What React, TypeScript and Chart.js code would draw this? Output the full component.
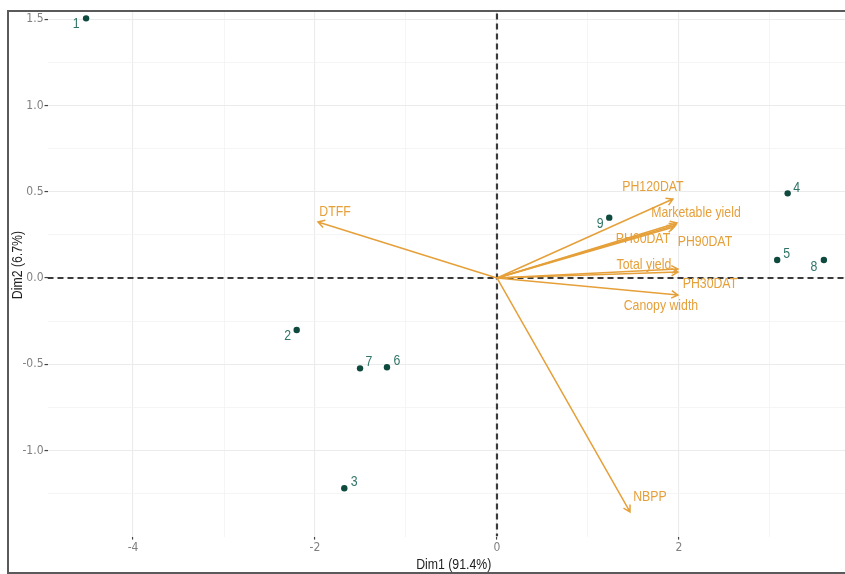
import React, { useEffect, useRef } from 'react';
import { Chart, registerables } from 'chart.js';

Chart.register(...registerables);

// ---------- data ----------
const individuals = ['1', '2', '3', '4', '5', '6', '7', '8', '9'];
const dim1Ind = [-4.516, -2.201, -1.678, 3.195, 3.08, -1.209, -1.505, 3.593, 1.234];
const dim2Ind = [1.506, -0.302, -1.22, 0.491, 0.104, -0.518, -0.524, 0.104, 0.35];

const variables = ['DTFF', 'PH120DAT', 'Marketable yield', 'PH60DAT', 'PH90DAT', 'Total yield', 'PH30DAT', 'Canopy width', 'NBPP'];
const dim1Var = [-1.967, 1.934, 1.978, 1.945, 1.967, 1.989, 1.989, 1.989, 1.462];
const dim2Var = [0.325, 0.458, 0.319, 0.296, 0.307, 0.035, 0.052, -0.099, -1.357];

const xTicks = [-4, -3, -2, -1, 0, 1, 2, 3];
const yTicks = [-1.25, -1, -0.75, -0.5, -0.25, 0, 0.25, 0.5, 0.75, 1, 1.25, 1.5];
const xTitle = 'Dim1 (91.4%)';
const yTitle = 'Dim2 (6.7%)';

// ---------- style ----------
const FONT = "'Liberation Sans Narrow', 'DejaVu Sans Condensed', 'Roboto Condensed', sans-serif";
const LABEL_FONT = "'Liberation Sans', Arial, sans-serif";
const SQUEEZE = 0.82;
const IND_COLOR = '#0E4A3D';
const IND_TEXT = '#2F7466';
const VAR_COLOR = '#E5A03A';
const CANVAS_W = 870;
const CANVAS_H = 594;
// label offsets in px (dx, dy) from mark
const indLabelOffsets = [[-10, 6], [-9, 6], [10, -6], [9, -5], [9.5, -6], [10, -6], [9, -6], [-10, 7], [-9, 6]];
const varLabelOffsets = [[17, -10], [-20, -12], [19, -10], [-31, 12], [29, 17], [-34, -7], [32, 15], [-17, 11], [20, -15]];

const isMajorX = (v: number) => Math.abs(v % 2) < 1e-9;
const isMajorY = (v: number) => Math.abs(v * 2 - Math.round(v * 2)) < 1e-9;

function squeezedText(ctx: CanvasRenderingContext2D, text: string, x: number, y: number, rot = 0) {
  ctx.save();
  ctx.translate(x, y);
  if (rot) ctx.rotate(rot);
  ctx.scale(SQUEEZE, 1);
  ctx.fillText(text, 0, 0);
  ctx.restore();
}

const overlay = {
  id: 'overlay',
  beforeDatasetsDraw(chart: any) {
    const { ctx, chartArea: a, scales } = chart;
    const x0 = scales.x.getPixelForValue(0);
    const y0 = scales.y.getPixelForValue(0);
    ctx.save();
    ctx.beginPath();
    ctx.rect(a.left, a.top, a.right - a.left, a.bottom - a.top);
    ctx.clip();
    ctx.strokeStyle = '#3a3a3a';
    ctx.lineWidth = 2.2;
    ctx.setLineDash([6, 4]);
    ctx.beginPath();
    ctx.moveTo(a.left, y0);
    ctx.lineTo(a.right, y0);
    ctx.stroke();
    ctx.beginPath();
    ctx.moveTo(x0, a.top);
    ctx.lineTo(x0, a.bottom);
    ctx.stroke();
    ctx.restore();
  },
  afterDatasetsDraw(chart: any) {
    const { ctx, scales, chartArea: a } = chart;
    const x0 = scales.x.getPixelForValue(0);
    const y0 = scales.y.getPixelForValue(0);
    ctx.save();
    // variable arrows
    ctx.strokeStyle = VAR_COLOR;
    ctx.lineWidth = 1.5;
    ctx.setLineDash([]);
    variables.forEach((_, i) => {
      const px = scales.x.getPixelForValue(dim1Var[i]);
      const py = scales.y.getPixelForValue(dim2Var[i]);
      ctx.beginPath();
      ctx.moveTo(x0, y0);
      ctx.lineTo(px, py);
      const ang = Math.atan2(py - y0, px - x0);
      const L = 7.5;
      const h = Math.PI / 6;
      ctx.moveTo(px - L * Math.cos(ang - h), py - L * Math.sin(ang - h));
      ctx.lineTo(px, py);
      ctx.lineTo(px - L * Math.cos(ang + h), py - L * Math.sin(ang + h));
      ctx.stroke();
    });
    ctx.fillStyle = VAR_COLOR;
    ctx.font = `15px ${LABEL_FONT}`;
    ctx.textAlign = 'center';
    ctx.textBaseline = 'middle';
    variables.forEach((name, i) => {
      const px = scales.x.getPixelForValue(dim1Var[i]);
      const py = scales.y.getPixelForValue(dim2Var[i]);
      squeezedText(ctx, name, px + varLabelOffsets[i][0], py + varLabelOffsets[i][1]);
    });
    // individual labels
    ctx.fillStyle = IND_TEXT;
    ctx.font = `15px ${LABEL_FONT}`;
    individuals.forEach((name, i) => {
      const px = scales.x.getPixelForValue(dim1Ind[i]);
      const py = scales.y.getPixelForValue(dim2Ind[i]);
      squeezedText(ctx, name, px + indLabelOffsets[i][0], py + indLabelOffsets[i][1]);
    });
    // axis titles
    ctx.fillStyle = '#222';
    ctx.font = `15px ${LABEL_FONT}`;
    squeezedText(ctx, xTitle, (a.left + a.right) / 2, a.bottom + 28.4);
    squeezedText(ctx, yTitle, 18, (a.top + a.bottom) / 2, -Math.PI / 2);
    ctx.restore();
  },
};

export default function App() {
  const ref = useRef<HTMLCanvasElement | null>(null);
  useEffect(() => {
    if (!ref.current) return;
    const chart = new Chart(ref.current, {
      type: 'scatter',
      data: {
        datasets: [
          {
            data: dim1Ind.map((x, i) => ({ x, y: dim2Ind[i] })),
            backgroundColor: IND_COLOR,
            borderWidth: 0,
            pointRadius: 3.2,
          },
        ],
      },
      options: {
        responsive: false,
        animation: false,
        devicePixelRatio: 1,
        layout: { padding: { left: 0, top: 13.5, right: CANVAS_W - 860, bottom: 0 } },
        plugins: { legend: { display: false }, tooltip: { enabled: false } },
        scales: {
          x: {
            type: 'linear',
            min: -4.94,
            max: 3.99,
            afterBuildTicks: (s: any) => {
              s.ticks = xTicks.map((v) => ({ value: v }));
            },
            afterFit: (s: any) => {
              s.height = 37.4;
            },
            border: { display: false },
            grid: {
              color: (c: any) => (c.tick && isMajorX(c.tick.value) ? '#EBEBEB' : '#F3F3F3'),
              lineWidth: (c: any) => (c.tick && isMajorX(c.tick.value) ? 1.1 : 0.8),
              tickColor: (c: any) => (c.tick && isMajorX(c.tick.value) ? '#444' : 'rgba(0,0,0,0)'),
              tickLength: 3,
              tickWidth: 1.2,
            },
            ticks: {
              autoSkip: false,
              maxRotation: 0,
              padding: 1,
              color: '#808080',
              font: { family: FONT, size: 12 },
              callback: (v: any) => (isMajorX(Number(v)) ? String(v) : ''),
            },
          },
          y: {
            type: 'linear',
            min: -1.5,
            max: 1.65,
            afterBuildTicks: (s: any) => {
              s.ticks = yTicks.map((v) => ({ value: v }));
            },
            afterFit: (s: any) => {
              s.width = 47.5;
            },
            border: { display: false },
            grid: {
              color: (c: any) => (c.tick && isMajorY(c.tick.value) ? '#EBEBEB' : '#F3F3F3'),
              lineWidth: (c: any) => (c.tick && isMajorY(c.tick.value) ? 1.1 : 0.8),
              tickColor: (c: any) => (c.tick && isMajorY(c.tick.value) ? '#444' : 'rgba(0,0,0,0)'),
              tickLength: 3,
              tickWidth: 1.2,
            },
            ticks: {
              autoSkip: false,
              padding: 1,
              color: '#808080',
              font: { family: FONT, size: 12 },
              callback: (v: any) => (isMajorY(Number(v)) ? Number(v).toFixed(1) : ''),
            },
          },
        },
      },
      plugins: [overlay],
    } as any);
    return () => chart.destroy();
  }, []);

  return (
    <div style={{ position: 'fixed', left: 0, top: 0, width: 845, height: 574, background: '#fff', overflow: 'hidden' }}>
      <div
        style={{
          position: 'absolute',
          left: 7,
          top: 10,
          width: 900,
          height: 564,
          boxSizing: 'border-box',
          border: '2px solid #5a5a5a',
          overflow: 'hidden',
        }}
      >
        <canvas
          ref={ref}
          width={CANVAS_W}
          height={CANVAS_H}
          style={{ position: 'absolute', left: -9, top: -32, width: CANVAS_W, height: CANVAS_H }}
        />
      </div>
    </div>
  );
}
